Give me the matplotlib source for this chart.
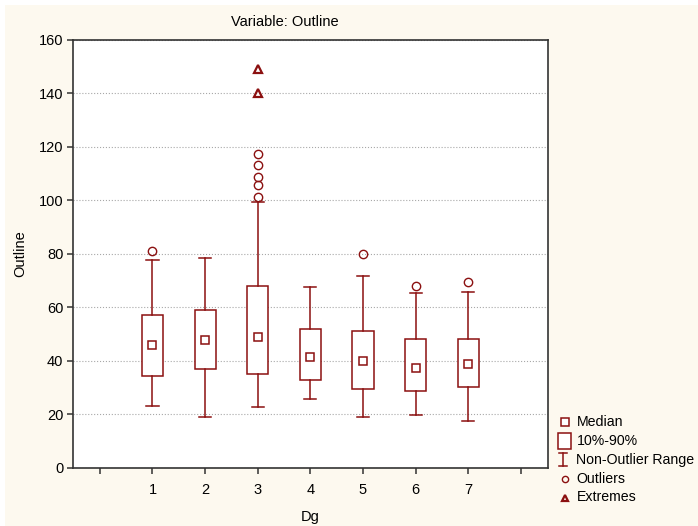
import matplotlib
matplotlib.use("Agg")
import matplotlib.pyplot as plt
from matplotlib.patches import Rectangle

# values
GROUPS = [1, 2, 3, 4, 5, 6, 7]
MEDIANS = [45.7, 47.8, 48.7, 41.4, 39.9, 37.3, 38.6]
P10 = [34.3, 37.0, 35.0, 32.7, 29.3, 28.7, 30.0]
P90 = [57.2, 58.9, 68.0, 51.7, 51.2, 48.0, 48.0]
WHISK_LO = [22.9, 18.9, 22.8, 25.7, 19.1, 19.6, 17.6]
WHISK_HI = [77.6, 78.2, 99.4, 67.6, 71.5, 65.3, 65.8]
OUTLIERS = [[81.0], [], [101.0, 105.5, 108.5, 113.1, 117.1], [], [79.7], [67.9], [69.5]]
EXTREMES = [[], [], [139.9, 148.9], [], [], [], []]

XTICKS = [0, 1, 2, 3, 4, 5, 6, 7, 8]
XTICK_LABELS = ["", "1", "2", "3", "4", "5", "6", "7", ""]
YTICKS = [0, 20, 40, 60, 80, 100, 120, 140, 160]

LEGEND_LABELS = ["Median", "10%-90%", "Non-Outlier Range", "Outliers", "Extremes"]

RED = "#8B1010"
CREAM = "#FDF9EF"

plt.rcParams["font.family"] = ["Liberation Sans", "DejaVu Sans"]

W, H = 698, 526
fig = plt.figure(figsize=(W / 100, H / 100), dpi=100, facecolor="white")
fig.patches.append(Rectangle((5 / W, 0), 1, 1 - 5 / H, transform=fig.transFigure,
                             facecolor=CREAM, edgecolor="none", zorder=-10))

ax = fig.add_axes([73 / W, 1 - 467.7 / H, (547.7 - 73) / W, (467.7 - 39.5) / H])
ax.set_facecolor("white")

stats = []
for i in range(len(GROUPS)):
    stats.append({
        "med": MEDIANS[i], "q1": P10[i], "q3": P90[i],
        "whislo": WHISK_LO[i], "whishi": WHISK_HI[i],
        "fliers": OUTLIERS[i],
    })

ax.bxp(stats, positions=GROUPS, widths=0.4, capwidths=0.23, patch_artist=True,
       manage_ticks=False,
       boxprops=dict(facecolor="white", edgecolor=RED, linewidth=1.1),
       whiskerprops=dict(color=RED, linewidth=1.1),
       capprops=dict(color=RED, linewidth=1.1),
       medianprops=dict(linestyle="none"),
       flierprops=dict(marker="o", markersize=6, markerfacecolor="none",
                       markeredgecolor=RED, markeredgewidth=1.0),
       zorder=3)

ax.plot(GROUPS, MEDIANS, linestyle="none", marker="s", markersize=6,
        markerfacecolor="white", markeredgecolor=RED, markeredgewidth=1.1, zorder=4)

for g, ext in zip(GROUPS, EXTREMES):
    if ext:
        ax.plot([g] * len(ext), ext, linestyle="none", marker="^", markersize=6,
                markerfacecolor="none", markeredgecolor=RED, markeredgewidth=1.6, zorder=4)

ax.set_xlim(-0.51, 8.51)
ax.set_ylim(0, 160)
ax.set_xticks(XTICKS)
ax.set_xticklabels(XTICK_LABELS)
ax.set_yticks(YTICKS)
ax.yaxis.grid(True, linestyle=":", color="#A8A8A8", linewidth=0.8)
ax.set_axisbelow(True)

for s in ax.spines.values():
    s.set_color("#333333")
    s.set_linewidth(1.2)

ax.tick_params(axis="both", direction="out", length=4, width=1.1, color="#333333",
               labelsize=10.5, labelcolor="black")
ax.tick_params(axis="y", pad=3)
ax.tick_params(axis="x", pad=7)

ax.set_ylabel("Outline", fontsize=10.5)
ax.yaxis.set_label_coords(-0.112, 0.5)
ax.yaxis.label.set_va("center")
ax.set_xlabel("Dg", fontsize=10.5)
ax.xaxis.set_label_coords(0.5, -0.114)
ax.xaxis.label.set_va("center")

fig.text(285 / W, 1 - 22 / H, "Variable: Outline", ha="center", va="center", fontsize=10.5)

# legend drawn in pixel coordinates on an overlay axes
lg = fig.add_axes([0, 0, 1, 1])
lg.set_xlim(0, W)
lg.set_ylim(H, 0)
lg.axis("off")
lg.patch.set_alpha(0)

rows = [422.3, 441.3, 460.0, 478.7, 497.3]
mx = 564.5
lg.plot([mx], [rows[0]], marker="s", markersize=5.5, markerfacecolor="white",
        markeredgecolor=RED, markeredgewidth=1.1)
lg.add_patch(Rectangle((558, 432.5), 13, 16, facecolor="white", edgecolor=RED, linewidth=1.1))
lg.plot([562.5, 562.5], [453, 466], color=RED, linewidth=1.1)
lg.plot([558.5, 566.5], [453, 453], color=RED, linewidth=1.1)
lg.plot([558.5, 566.5], [466, 466], color=RED, linewidth=1.1)
lg.plot([mx], [rows[3]], marker="o", markersize=4.5, markerfacecolor="none",
        markeredgecolor=RED, markeredgewidth=1.0)
lg.plot([mx], [rows[4] + 0.5], marker="^", markersize=5, markerfacecolor="none",
        markeredgecolor=RED, markeredgewidth=1.6)
for y, lab in zip(rows, LEGEND_LABELS):
    lg.text(576.5, y, lab, ha="left", va="center", fontsize=10.2)

fig.savefig("out.png", dpi=100, facecolor=fig.get_facecolor())
